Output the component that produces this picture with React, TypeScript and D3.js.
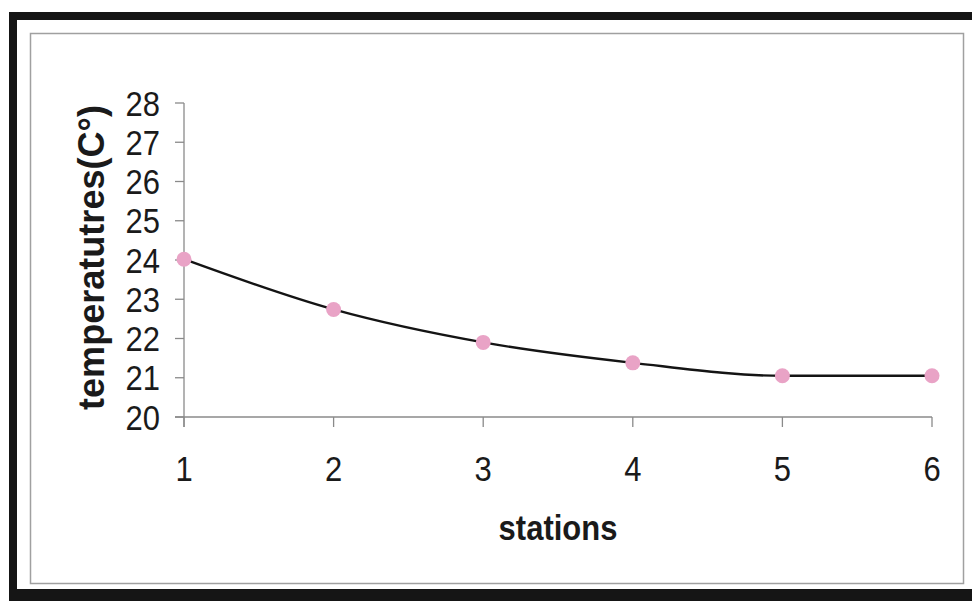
import React from "react";
import * as d3 from "d3";

const stations: number[] = [1, 2, 3, 4, 5, 6];
const temperatures: number[] = [24.02, 22.74, 21.9, 21.38, 21.05, 21.05];
const yTicks: number[] = [20, 21, 22, 23, 24, 25, 26, 27, 28];

const W = 972;
const H = 601;

export default function App() {
  const x = d3.scaleLinear().domain([1, 6]).range([184, 932]);
  const y = d3.scaleLinear().domain([20, 28]).range([417, 103]);

  const line = d3
    .line<number>()
    .x((_, i) => x(stations[i]))
    .y((d) => y(d))
    .curve(d3.curveMonotoneX);

  const font = "'Liberation Sans', Arial, sans-serif";
  const axisColor = "#8a8a8a";

  return (
    <svg
      width={W}
      height={H}
      style={{ position: "absolute", left: 0, top: 0, background: "#fff" }}
    >
      {/* heavy outer frame */}
      <rect x={0} y={0} width={W} height={H} fill="#fff" />
      <rect x={9} y={12} width={W - 9} height={8} fill="#151515" />
      <rect x={9} y={12} width={8} height={H - 12} fill="#151515" />
      <rect x={9} y={589} width={W - 9} height={12} fill="#151515" />

      {/* thin chart-area border */}
      <rect
        x={30.5}
        y={33.5}
        width={933}
        height={550}
        fill="#fff"
        stroke="#a0a0a0"
        strokeWidth={1.5}
      />

      {/* y axis */}
      <line x1={x(1)} x2={x(1)} y1={y(28)} y2={y(20) + 10} stroke={axisColor} strokeWidth={1.3} />
      {yTicks.map((t) => (
        <g key={"y" + t}>
          <line x1={x(1) - 9} x2={x(1)} y1={y(t)} y2={y(t)} stroke={axisColor} strokeWidth={1.3} />
          <text
            transform={`translate(160,${y(t)}) scale(1,1.12)`}
            dy="0.36em"
            textAnchor="end"
            fontFamily={font}
            fontSize={31}
            fill="#1a1a1a"
          >
            {t}
          </text>
        </g>
      ))}

      {/* x axis */}
      <line x1={x(1) - 9} x2={x(6)} y1={y(20)} y2={y(20)} stroke={axisColor} strokeWidth={1.3} />
      {stations.map((s) => (
        <g key={"x" + s}>
          <line x1={x(s)} x2={x(s)} y1={y(20)} y2={y(20) + 10} stroke={axisColor} strokeWidth={1.3} />
          <text
            transform={`translate(${x(s)},481) scale(1,1.12)`}
            textAnchor="middle"
            fontFamily={font}
            fontSize={31}
            fill="#1a1a1a"
          >
            {s}
          </text>
        </g>
      ))}

      {/* axis titles */}
      <text
        transform="translate(558,540) scale(1,1.15)"
        textAnchor="middle"
        fontFamily={font}
        fontWeight="bold"
        fontSize={31}
        fill="#1a1a1a"
      >
        stations
      </text>
      <text
        transform={`translate(104,${(105 + 410) / 2}) rotate(-90)`}
        textAnchor="middle"
        fontFamily={font}
        fontWeight="bold"
        fontSize={36}
        textLength={305}
        lengthAdjust="spacingAndGlyphs"
        fill="#1a1a1a"
      >
        temperatutres(C°)
      </text>

      {/* series */}
      <path d={line(temperatures) ?? ""} fill="none" stroke="#141414" strokeWidth={2.4} />
      {temperatures.map((v, i) => (
        <circle key={"p" + i} cx={x(stations[i])} cy={y(v)} r={7.5} fill="#e9a3c6" />
      ))}
    </svg>
  );
}
